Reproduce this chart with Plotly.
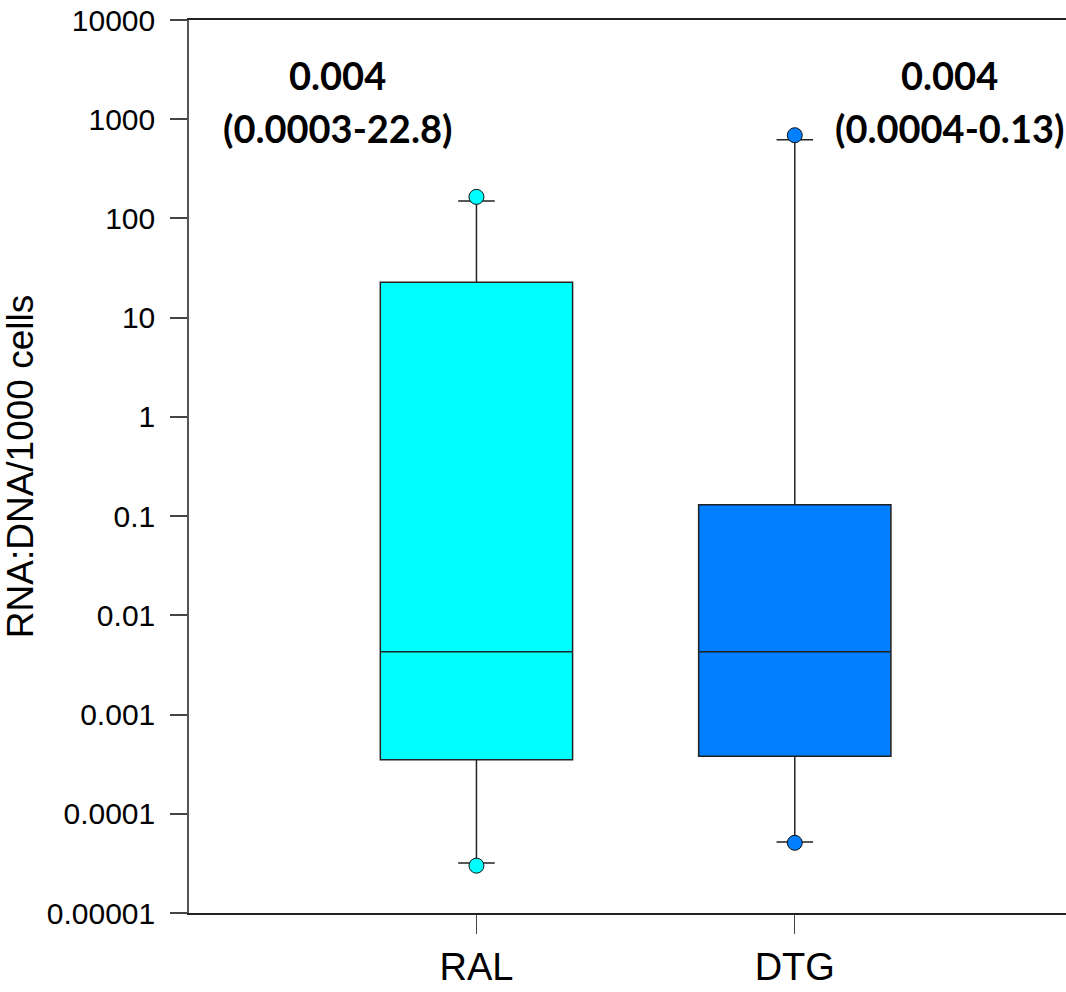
import plotly.graph_objects as go

# ---- data ----
groups = ["RAL", "DTG"]
group_pos = [0, 1]
q1 = [0.00035, 0.00038]
median = [0.0043, 0.0043]
q3 = [22.8, 0.13]
lower_fence = [3.2e-5, 5.2e-5]
upper_fence = [150, 620]
outlier_low = [3.0e-5, 5.1e-5]
outlier_high = [165, 690]
colors = ["#00FFFF", "#007FFF"]
median_text = ["0.004", "0.004"]
range_text = ["(0.0003-22.8)", "(0.0004-0.13)"]
annot_x = [-0.435, 1.485]

y_tickvals = [1e-5, 1e-4, 1e-3, 1e-2, 1e-1, 1, 10, 100, 1000, 10000]
y_ticktext = ["0.00001", "0.0001", "0.001", "0.01", "0.1", "1", "10", "100", "1000", "10000"]

fig = go.Figure()
for i, g in enumerate(groups):
    fig.add_trace(go.Box(
        x=[group_pos[i]],
        q1=[q1[i]], median=[median[i]], q3=[q3[i]],
        lowerfence=[lower_fence[i]], upperfence=[upper_fence[i]],
        width=0.604,
        whiskerwidth=0.19,
        fillcolor=colors[i],
        line=dict(color="#222222", width=1.5),
        boxpoints=False,
        name=g,
        showlegend=False,
    ))
    fig.add_trace(go.Scatter(
        x=[group_pos[i], group_pos[i]],
        y=[outlier_low[i], outlier_high[i]],
        mode="markers",
        marker=dict(size=15, color=colors[i], line=dict(color="#111111", width=1)),
        showlegend=False,
        hoverinfo="y",
    ))

afont = dict(family="Lato, 'Open Sans', sans-serif", size=38, color="black")
for i in range(len(groups)):
    fig.add_annotation(
        x=annot_x[i], y=3.45, xref="x", yref="y",
        text="<b>" + median_text[i] + "</b>",
        showarrow=False, font=afont, align="center",
    )
    fig.add_annotation(
        x=annot_x[i], y=2.91, xref="x", yref="y",
        text="<b>" + range_text[i] + "</b>",
        showarrow=False, font=afont, align="center",
    )

fig.update_layout(
    width=1066, height=992,
    margin=dict(l=189, r=0, t=20, b=79),
    plot_bgcolor="white", paper_bgcolor="white",
    boxmode="overlay",
    font=dict(family="Liberation Sans, Arial, sans-serif", color="black"),
)
fig.update_xaxes(
    range=[-0.903, 1.852],
    tickvals=group_pos, ticktext=groups,
    ticks="outside", ticklen=19, tickcolor="#444444", tickwidth=1,
    ticklabelstandoff=1,
    showline=True, linecolor="#222222", linewidth=1.5, mirror=True,
    showgrid=False, zeroline=False, automargin=False,
    tickfont=dict(size=38),
)
fig.update_yaxes(
    type="log", range=[-5, 4],
    tickvals=y_tickvals, ticktext=y_ticktext,
    ticks="outside", ticklen=17, tickcolor="#444444", tickwidth=1.5,
    ticklabelstandoff=9, ticklabeloverflow="allow",
    showline=True, linecolor="#555555", linewidth=1.5,
    showgrid=False, zeroline=False, automargin=False,
    tickfont=dict(size=30),
    title=dict(text="RNA:DNA/1000 cells", font=dict(size=37), standoff=6),
)

fig.write_html(
    "out.html",
    config={"displayModeBar": False},
    post_script="document.body.style.margin='0';document.body.style.overflow='hidden';",
)
